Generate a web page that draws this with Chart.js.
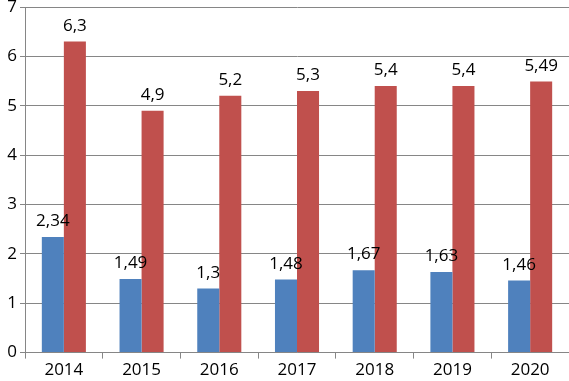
<!DOCTYPE html>
<html><head><meta charset="utf-8">
<script src="https://cdn.jsdelivr.net/npm/chart.js@4"></script>
<style>html,body{margin:0;padding:0;background:#fff}#wrap{width:569px;height:381px}</style>
</head><body><div id="wrap"><canvas id="c" width="569" height="381"></canvas></div>
<script>
const categories = ['2014','2015','2016','2017','2018','2019','2020'];
const seriesA = [2.34, 1.49, 1.3, 1.48, 1.67, 1.63, 1.46];
const seriesB = [6.3, 4.9, 5.2, 5.3, 5.4, 5.4, 5.49];
const yTicks = [0,1,2,3,4,5,6,7];
const FONT = '"Open Sans", sans-serif';

const labelPlugin = {
  id: 'barLabels',
  afterDatasetsDraw(chart) {
    const ctx = chart.ctx;
    ctx.save();
    ctx.font = '17px ' + FONT;
    ctx.fillStyle = '#000';
    ctx.textAlign = 'center';
    ctx.textBaseline = 'bottom';
    chart.data.datasets.forEach((ds, i) => {
      chart.getDatasetMeta(i).data.forEach((el, j) => {
        const txt = String(ds.data[j]).replace('.', ',');
        ctx.fillText(txt, el.x, el.y - 7);
      });
    });
    ctx.restore();
  }
};

new Chart(document.getElementById('c'), {
  type: 'bar',
  data: {
    labels: categories,
    datasets: [
      {data: seriesA, backgroundColor: '#4F81BD', categoryPercentage: 0.567, barPercentage: 1},
      {data: seriesB, backgroundColor: '#C0504D', categoryPercentage: 0.567, barPercentage: 1}
    ]
  },
  options: {
    responsive: false,
    animation: false,
    layout: {padding: {top: 0, right: 0, left: 0, bottom: 0}},
    plugins: {legend: {display: false}, tooltip: {enabled: false}},
    scales: {
      x: {
        grid: {display: true, drawOnChartArea: false, drawTicks: true, offset: true, tickLength: 6, color: '#868686'},
        border: {display: true, color: '#868686'},
        ticks: {color: '#000', font: {family: FONT, size: 17}, padding: 1}
      },
      y: {
        min: 0, max: 7,
        afterBuildTicks(axis) { axis.ticks = yTicks.map(v => ({value: v})); },
        afterFit(axis) { axis.width = 25; axis.paddingTop = 7; },
        grid: {color: '#868686', drawTicks: true, tickLength: 5},
        border: {display: true, color: '#868686'},
        ticks: {color: '#000', font: {family: FONT, size: 17, lineHeight: 0.8}, padding: 3}
      }
    }
  },
  plugins: [labelPlugin]
});
</script></body></html>
